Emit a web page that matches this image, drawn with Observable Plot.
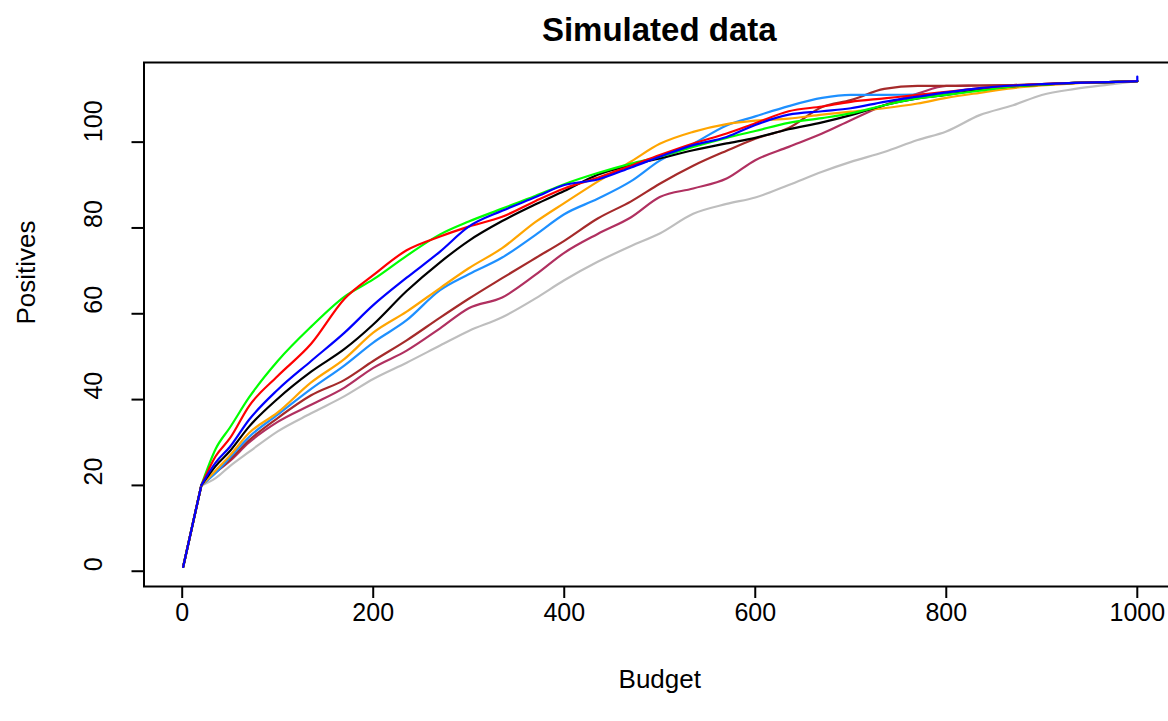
<!DOCTYPE html>
<html>
<head>
<meta charset="utf-8">
<script src="https://cdn.jsdelivr.net/npm/d3@7"></script>
<script src="https://cdn.jsdelivr.net/npm/@observablehq/plot@0.6"></script>
<style>
  html, body { margin: 0; padding: 0; background: #fff; overflow: hidden; width: 1168px; height: 721px; }
  #title { position: absolute; left: 143.5px; width: 1031.5px; top: 0; height: 56px; line-height: 60px;
           text-align: center; font-family: "Liberation Sans", Arial, sans-serif; font-weight: bold; font-size: 33px; color: #000; }
  #chart { position: absolute; left: 0; top: 56px; width: 1180px; }
  #chart svg { max-width: none !important; width: 1180px; height: 665px; }
</style>
</head>
<body>
<div id="title">Simulated data</div>
<div id="chart"></div>
<script>
const budget = [1,20,35,50,70,100,135,170,200,235,270,300,335,370,400,435,470,500,535,570,600,635,670,700,735,770,800,835,870,900,935,970,1000];
const budgetBlue = budget.concat([1000]);

const gray      = [1,20,21.7,24.5,27.8,32.6,36.8,40.8,44.8,48.6,52.6,56,59.2,63.6,67.8,72.1,75.8,78.7,83.3,85.6,87.1,90,93.1,95.4,97.7,100.5,102.5,106.3,108.6,111,112.4,113.4,114.2];
const maroon    = [1,20,23,25.7,30,34.8,38.8,42.8,47.4,51.4,56.6,61.3,63.8,69.1,74.2,78.6,82.5,87.2,89.2,91.5,95.8,98.9,102,105.1,108.6,111.3,113.1,113.2,113.3,113.5,113.8,114,114.2];
const brown     = [1,20,23,26,30.5,35.7,41,44.6,49,53.8,59.1,63.5,68.3,73,77,82.2,86.2,90.3,94.5,98,100.8,103.3,108.2,109.8,112.4,113.1,113.1,113.2,113.3,113.5,113.8,114,114.2];
const dodger    = [1,20,22.9,26.5,31.3,36.5,42.5,48,53.3,58.5,65.5,69.2,73.1,78.4,83.2,86.8,90.9,95.7,99.6,103.9,106,108.4,110.3,111,111,111.1,111.4,112.2,113,113.4,113.8,114,114.2];
const orange    = [1,20,23.5,27,32.2,37,44,49.5,55.6,60.5,66,70.6,75.3,81.4,85.8,90.8,95.5,99.6,102.4,104.2,105,105.5,106.4,107.1,107.9,109,110.3,111.5,112.6,113.2,113.7,114,114.2];
const black     = [1,20,24.5,28,33.7,40.2,46.5,51.8,57.5,65.3,72,77,81.6,85.5,88.6,92.4,94.7,96.2,98.1,99.7,101,103,104.6,106.3,108.6,110.2,111,112.2,113,113.4,113.8,114,114.2];
const green     = [1,20,28.5,33.5,40.5,49,57,64,68,73.5,78.5,81.5,84.5,87.5,90.2,92.8,95,96.6,98.9,101,102.6,104.5,105.6,106.7,108.6,110.2,111,112,113,113.4,113.8,114,114.2];
const red       = [1,20,26.8,31,38.5,45.5,53,63.5,69,74.8,78,80.3,82.6,86.3,89.2,91.7,94.5,97,99.7,102,104.4,107.2,108.3,109.4,110.2,111,111.7,112.6,113.2,113.5,113.8,114,114.2];
const blue      = [1,20,25.3,29,35.3,42.3,49,55.6,62,68.4,74.5,80.3,84,87.2,90,91.3,94.1,96.6,99.3,101.2,104,106.4,107.2,107.9,109.4,110.6,111.6,112.6,113.2,113.5,113.8,114,114.2,115.3];

const seriesNames  = ["Series 9","Series 8","Series 7","Series 6","Series 5","Series 4","Series 3","Series 2","Series 1"];
const seriesColors = ["#BEBEBE","#B03060","#A52A2A","#1E90FF","#FFA500","#000000","#00FF00","#FF0000","#0000FF"];
const seriesValues = [gray, maroon, brown, dodger, orange, black, green, red, blue];
const seriesBudgets = [budget, budget, budget, budget, budget, budget, budget, budget, budgetBlue];

const xTicks = [0,200,400,600,800,1000];
const yTicks = [0,20,40,60,80,100];

const rows = [];
seriesValues.forEach((vals, i) => {
  vals.forEach((v, j) => rows.push({series: seriesNames[i], budget: seriesBudgets[i][j], value: v}));
});
const startRows = rows.filter(d => d.budget <= 20);
const restRows = rows.filter(d => d.budget >= 20);

const chart = Plot.plot({
  width: 1180,
  height: 665,
  marginLeft: 143.5,
  marginRight: 5,
  marginTop: 6,
  marginBottom: 135,
  style: {fontFamily: "'Liberation Sans', Arial, sans-serif", fontSize: "25px", color: "#000", background: "#fff", overflow: "visible", maxWidth: "none"},
  x: {domain: [-40, 1040]},
  y: {domain: [-3.56, 118.56]},
  color: {type: "ordinal", domain: seriesNames, range: seriesColors},
  marks: [
    Plot.lineY(startRows, {x: "budget", y: "value", z: "series", stroke: "series", strokeWidth: 2.2}),
    Plot.lineY(restRows, {x: "budget", y: "value", z: "series", stroke: "series", strokeWidth: 2.2, curve: "monotone-x"}),
    Plot.frame({stroke: "#000", strokeWidth: 2}),
    Plot.axisX({ticks: xTicks, tickSize: 12, tickPadding: 4.5, strokeWidth: 2, label: null, fontSize: 25, tickFormat: d => String(d)}),
    Plot.axisY({ticks: yTicks, tickSize: 12, strokeWidth: 2, fill: "none", label: null}),
    Plot.text(yTicks, {y: d => d, text: d => String(d), frameAnchor: "left", dx: -50.5, rotate: -90, fontSize: 25, fill: "#000"}),
    Plot.text(["Budget"], {text: d => d, frameAnchor: "bottom", dy: 101, fontSize: 26, fill: "#000"}),
    Plot.text(["Positives"], {text: d => d, frameAnchor: "left", dx: -117, rotate: -90, fontSize: 26, fill: "#000"})
  ]
});
document.getElementById("chart").appendChild(chart);
</script>
</body>
</html>
